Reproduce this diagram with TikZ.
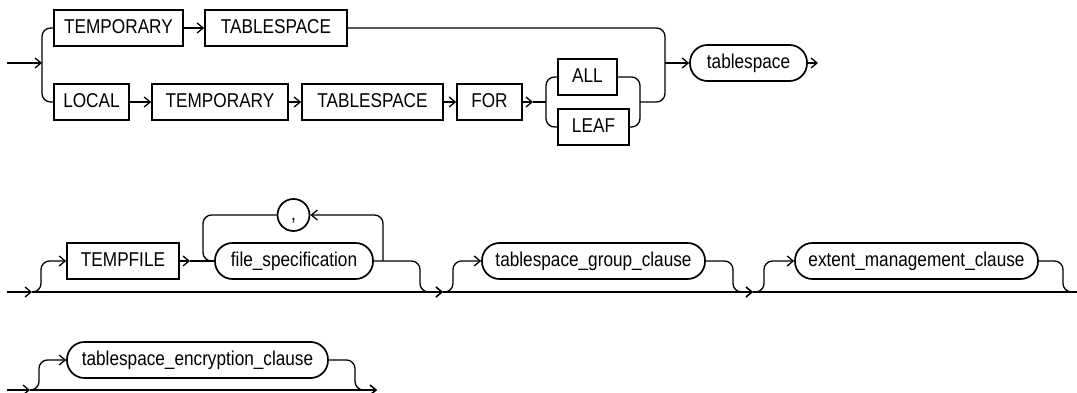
\documentclass[tikz,border=0pt]{standalone}
\usepackage{fontspec}
\newfontfamily\railfont{Liberation Sans}[FakeStretch=0.86]
\usetikzlibrary{arrows.meta}
\definecolor{Ink}{HTML}{000000}
\tikzset{
  keyword box/.style={draw=Ink, line width=1.7pt, minimum height=36pt, inner sep=0pt, text=Ink,
    font=\railfont\fontsize{20}{22}\selectfont, text height=14.3pt, text depth=4pt},
  clause pill/.style={keyword box, rounded corners=17.5pt},
  comma ring/.style={keyword box, circle, minimum size=32pt},
  rail/.style={draw=Ink, line width=1.3pt, rounded corners=8.5pt},
  rail flow/.style={rail, -{Straight Barb[length=6pt,width=10pt]}},
}

\begin{document}
\begin{tikzpicture}[x=1pt, y=-1pt]
  \useasboundingbox (0,0) rectangle (1077,393);

  % First rule: two ways to name the tablespace kind.
  \node[keyword box, minimum width=129pt] (temp a) at (118.5,28) {TEMPORARY};
  \node[keyword box, minimum width=142pt] (tbs a) at (276,28) {TABLESPACE};
  \node[keyword box, minimum width=75pt] (local) at (91.5,102) {LOCAL};
  \node[keyword box, minimum width=136pt] (temp b) at (220,102) {TEMPORARY};
  \node[keyword box, minimum width=141pt] (tbs b) at (372.5,102) {TABLESPACE};
  \node[keyword box, minimum width=65pt] (for) at (489.5,102) {FOR};
  \node[keyword box, minimum width=59pt] (all) at (587.5,77) {ALL};
  \node[keyword box, minimum width=71pt] (leaf) at (593.5,127) {LEAF};
  \node[clause pill, minimum width=117pt] (tbs name) at (748.5,63) {tablespace};

  \coordinate (entry) at (7,63);
  \coordinate (fork) at (42,63);
  \coordinate (for tip) at (533,102);
  \coordinate (choice in) at (546,102);
  \coordinate (choice out) at (640,102);
  \coordinate (merge) at (665,63);
  \coordinate (exit) at (818,63);

  \draw[rail flow] (entry) -- (fork);
  \draw[rail] (temp a.west) -| (fork) |- (local.west);
  \draw[rail flow] (temp a.east) -- (tbs a.west);
  \draw[rail] (tbs a.east) -| (merge);
  \draw[rail flow] (local.east) -- (temp b.west);
  \draw[rail flow] (temp b.east) -- (tbs b.west);
  \draw[rail flow] (tbs b.east) -- (for.west);
  \draw[rail flow] (for.east) -- (for tip);
  \draw[rail] (for tip) -- (choice in);
  \draw[rail] (all.west) -| (choice in) |- (leaf.west);
  \draw[rail] (all.east) -| (choice out) |- (leaf.east);
  \draw[rail] (choice out) -| (merge);
  \draw[rail flow] (merge) -- (tbs name.west);
  \draw[rail flow] (tbs name.east) -- (exit);

  % Second rule: a row of optional clauses on one main line.
  \node[keyword box, minimum width=112pt] (tempfile) at (123,261) {TEMPFILE};
  \node[clause pill, minimum width=158pt] (file spec) at (294,261) {file\_specification};
  \node[comma ring] (comma) at (293.5,215) {,};
  \node[clause pill, minimum width=223pt] (group) at (593.5,261) {tablespace\_group\_clause};
  \node[clause pill, minimum width=243pt] (extent) at (916.5,261) {extent\_management\_clause};

  \coordinate (line2 start) at (7,292);
  \coordinate (join a) at (32,292);
  \coordinate (rise a) at (41,261);
  \coordinate (tf tip) at (190,261);
  \coordinate (loop left) at (203,261);
  \coordinate (loop right) at (383,261);
  \coordinate (drop a) at (420,292);
  \coordinate (join b) at (443,292);
  \coordinate (rise b) at (453,261);
  \coordinate (drop b) at (733,292);
  \coordinate (join c) at (753,292);
  \coordinate (rise c) at (764,261);
  \coordinate (drop c) at (1063,292);
  \coordinate (line2 end) at (1077,292);

  \draw[rail flow] (line2 start) -- (join a);
  \draw[rail flow] (join a) -- (join b);
  \draw[rail flow] (join b) -- (join c);
  \draw[rail] (join c) -- (line2 end);
  \draw[rail flow] (join a) -| (rise a) -- (tempfile.west);
  \draw[rail flow] (tempfile.east) -- (tf tip);
  \draw[rail] (tf tip) -- (file spec.west);
  \draw[rail flow] (loop right) |- (comma.east);
  \draw[rail] (comma.west) -| (loop left) -- (file spec.west);
  \draw[rail flow] (file spec.east) -| (drop a) -- (join b);
  \draw[rail flow] (join b) -| (rise b) -- (group.west);
  \draw[rail flow] (group.east) -| (drop b) -- (join c);
  \draw[rail flow] (join c) -| (rise c) -- (extent.west);
  \draw[rail] (extent.east) -| (drop c) -- (line2 end);

  % Third rule: the optional encryption clause.
  \node[clause pill, minimum width=261pt] (encrypt) at (197.5,360) {tablespace\_encryption\_clause};

  \coordinate (line3 start) at (7,390);
  \coordinate (join d) at (30,390);
  \coordinate (rise d) at (39,360);
  \coordinate (drop d) at (355,390);
  \coordinate (line3 end) at (377,390);

  \draw[rail flow] (line3 start) -- (join d);
  \draw[rail flow] (join d) -- (line3 end);
  \draw[rail flow] (join d) -| (rise d) -- (encrypt.west);
  \draw[rail flow] (encrypt.east) -| (drop d) -- (line3 end);
\end{tikzpicture}
\end{document}
